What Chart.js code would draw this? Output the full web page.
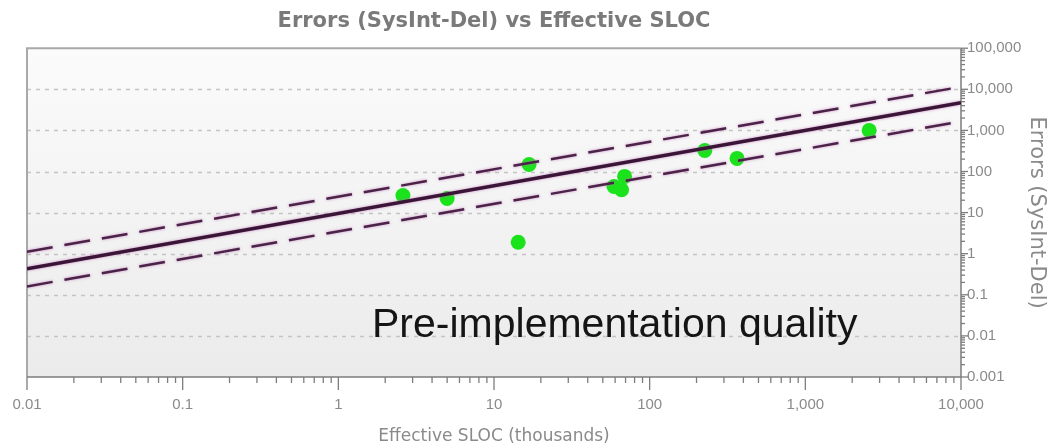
<!DOCTYPE html>
<html>
<head>
<meta charset="utf-8">
<title>Errors (SysInt-Del) vs Effective SLOC</title>
<script src="https://cdn.jsdelivr.net/npm/chart.js@4.4.1/dist/chart.umd.min.js"></script>
<style>
  html, body { margin: 0; padding: 0; background: #ffffff; }
  #wrap { width: 1047px; height: 448px; }
</style>
</head>
<body>
<div id="wrap"><canvas id="chart" width="1047" height="448"></canvas></div>
<script>
// ---- text ----
const chartTitle = 'Errors (SysInt-Del) vs Effective SLOC';
const xAxisTitle = 'Effective SLOC (thousands)';
const yAxisTitle = 'Errors (SysInt-Del)';
const noteText = 'Pre-implementation quality';

// ---- axis ticks (decades) ----
const xTickValues = [0.01, 0.1, 1, 10, 100, 1000, 10000];
const xTickLabels = ['0.01', '0.1', '1', '10', '100', '1,000', '10,000'];
const yTickValues = [0.001, 0.01, 0.1, 1, 10, 100, 1000, 10000, 100000];
const yTickLabels = ['0.001', '0.01', '0.1', '1', '10', '100', '1,000', '10,000', '100,000'];

// ---- projects: size (KSLOC) and errors ----
const projectSloc   = [2.6, 5.0, 16.8, 14.3, 59, 69, 66, 226, 364, 2570];
const projectErrors = [26, 22, 148, 1.9, 43, 76, 36, 324, 208, 1000];

// ---- trend line and its band ----
const fitSloc     = [0.01, 10000];
const fitErrors   = [0.43, 4700];
const upperErrors = [1.12, 11500];
const lowerErrors = [0.16, 1650];

const pairs = (xs, ys) => xs.map((x, i) => ({ x: x, y: ys[i] }));

const tickFont = { family: "'Liberation Sans', Arial, sans-serif", size: 15 };
const grey = '#8a8a8a';

// plot background, dashed grid, frame, axis lines and tick marks
const plotDecor = {
  id: 'plotDecor',
  beforeDatasetsDraw(chart) {
    const ctx = chart.ctx;
    const a = chart.chartArea;
    const xs = chart.scales.x;
    const ys = chart.scales.y;
    const seg = (x1, y1, x2, y2) => { ctx.beginPath(); ctx.moveTo(x1, y1); ctx.lineTo(x2, y2); ctx.stroke(); };
    ctx.save();

    const g = ctx.createLinearGradient(0, a.top, 0, a.bottom);
    g.addColorStop(0, '#fbfbfb');
    g.addColorStop(1, '#ebebeb');
    ctx.fillStyle = g;
    ctx.fillRect(a.left, a.top, a.right - a.left, a.bottom - a.top);

    ctx.strokeStyle = '#c4c4c4';
    ctx.lineWidth = 1.5;
    ctx.setLineDash([4, 5]);
    yTickValues.slice(1, -1).forEach(v => {
      const p = Math.round(ys.getPixelForValue(v)) + 0.5;
      seg(a.left, p, a.right, p);
    });
    ctx.setLineDash([]);

    ctx.strokeStyle = '#a9a9a9';
    ctx.lineWidth = 2;
    ctx.beginPath();
    ctx.moveTo(a.left, a.bottom);
    ctx.lineTo(a.left, a.top);
    ctx.lineTo(a.right, a.top);
    ctx.stroke();

    ctx.strokeStyle = '#7d7d7d';
    ctx.lineWidth = 1.5;
    seg(a.left, a.bottom, a.right, a.bottom);
    seg(a.right, a.top, a.right, a.bottom);

    ctx.lineWidth = 1.3;
    xTickValues.forEach((base, d) => {
      const p = xs.getPixelForValue(base);
      seg(p, a.bottom, p, a.bottom + 13);
      if (d < xTickValues.length - 1) {
        for (let m = 2; m <= 9; m++) {
          const q = xs.getPixelForValue(base * m);
          seg(q, a.bottom, q, a.bottom + 6);
        }
      }
    });
    yTickValues.forEach((base, d) => {
      const p = ys.getPixelForValue(base);
      seg(a.right, p, a.right + 7, p);
      if (d < yTickValues.length - 1) {
        for (let m = 2; m <= 9; m++) {
          const q = ys.getPixelForValue(base * m);
          seg(a.right, q, a.right + 4, q);
        }
      }
    });
    ctx.restore();
  },
  // soft magenta fringe around the trend lines
  beforeDatasetDraw(chart, args) {
    if (args.meta.type === 'scatter' && chart.data.datasets[args.index].showLine) {
      chart.ctx.save();
      chart.ctx.shadowColor = 'rgba(190, 110, 180, 0.75)';
      chart.ctx.shadowBlur = 3;
    }
  },
  afterDatasetDraw(chart, args) {
    if (args.meta.type === 'scatter' && chart.data.datasets[args.index].showLine) {
      chart.ctx.restore();
    }
  },
  afterDatasetsDraw(chart) {
    const ctx = chart.ctx;
    const a = chart.chartArea;
    ctx.save();
    ctx.font = "41px 'Liberation Sans', Arial, sans-serif";
    ctx.fillStyle = '#151515';
    ctx.textAlign = 'left';
    ctx.textBaseline = 'alphabetic';
    ctx.fillText(noteText, a.left + 345, a.top + 289);
    ctx.restore();
  }
};

const lineColor = '#3a1538';

new Chart(document.getElementById('chart'), {
  type: 'scatter',
  data: {
    datasets: [
      { label: 'Trend', data: pairs(fitSloc, fitErrors), showLine: true, borderColor: lineColor,
        borderWidth: 3.5, pointRadius: 0, order: 1 },
      { label: 'Upper', data: pairs(fitSloc, upperErrors), showLine: true, borderColor: '#4b2248',
        borderWidth: 2.5, borderDash: [26, 12], pointRadius: 0, order: 2 },
      { label: 'Lower', data: pairs(fitSloc, lowerErrors), showLine: true, borderColor: '#4b2248',
        borderWidth: 2.5, borderDash: [26, 12], pointRadius: 0, order: 3 },
      { label: 'Projects', data: pairs(projectSloc, projectErrors), showLine: false,
        backgroundColor: '#1be31b', borderWidth: 0, pointRadius: 7.5, order: 4 }
    ]
  },
  options: {
    responsive: false,
    devicePixelRatio: 1,
    animation: false,
    events: [],
    layout: { padding: { left: 27, right: 0, top: 0, bottom: 0 } },
    plugins: {
      legend: { display: false },
      tooltip: { enabled: false },
      title: {
        display: true, text: chartTitle, fullSize: false, color: '#7a7a7a',
        font: { family: "'DejaVu Sans', sans-serif", size: 21, weight: 'bold' },
        padding: { top: 9, bottom: 14 }
      }
    },
    scales: {
      x: {
        type: 'logarithmic', position: 'bottom', min: 0.01, max: 10000,
        afterBuildTicks: s => { s.ticks = xTickValues.map(v => ({ value: v })); },
        afterFit: s => { s.height = 71; s.paddingLeft = 0; s.paddingRight = 0; },
        grid: { display: false, drawTicks: false },
        border: { display: false },
        ticks: { autoSkip: false, maxRotation: 0, padding: 19, color: grey, font: tickFont,
                 callback: (v, i) => xTickLabels[i] },
        title: { display: true, text: xAxisTitle, color: grey,
                 font: { family: "'DejaVu Sans', sans-serif", size: 17 }, padding: { top: 0, bottom: 1 } }
      },
      y: {
        type: 'logarithmic', position: 'right', min: 0.001, max: 100000,
        afterBuildTicks: s => { s.ticks = yTickValues.map(v => ({ value: v })); },
        afterFit: s => { s.width = 86; s.paddingTop = 0; s.paddingBottom = 0; },
        grid: { display: false, drawTicks: false },
        border: { display: false },
        ticks: { autoSkip: false, padding: 6, color: grey, font: tickFont,
                 callback: (v, i) => yTickLabels[i] },
        title: { display: true, text: yAxisTitle, color: grey,
                 font: { family: "'DejaVu Sans', sans-serif", size: 21, lineHeight: 1 }, padding: 0 }
      }
    }
  },
  plugins: [plotDecor]
});
</script>
</body>
</html>
